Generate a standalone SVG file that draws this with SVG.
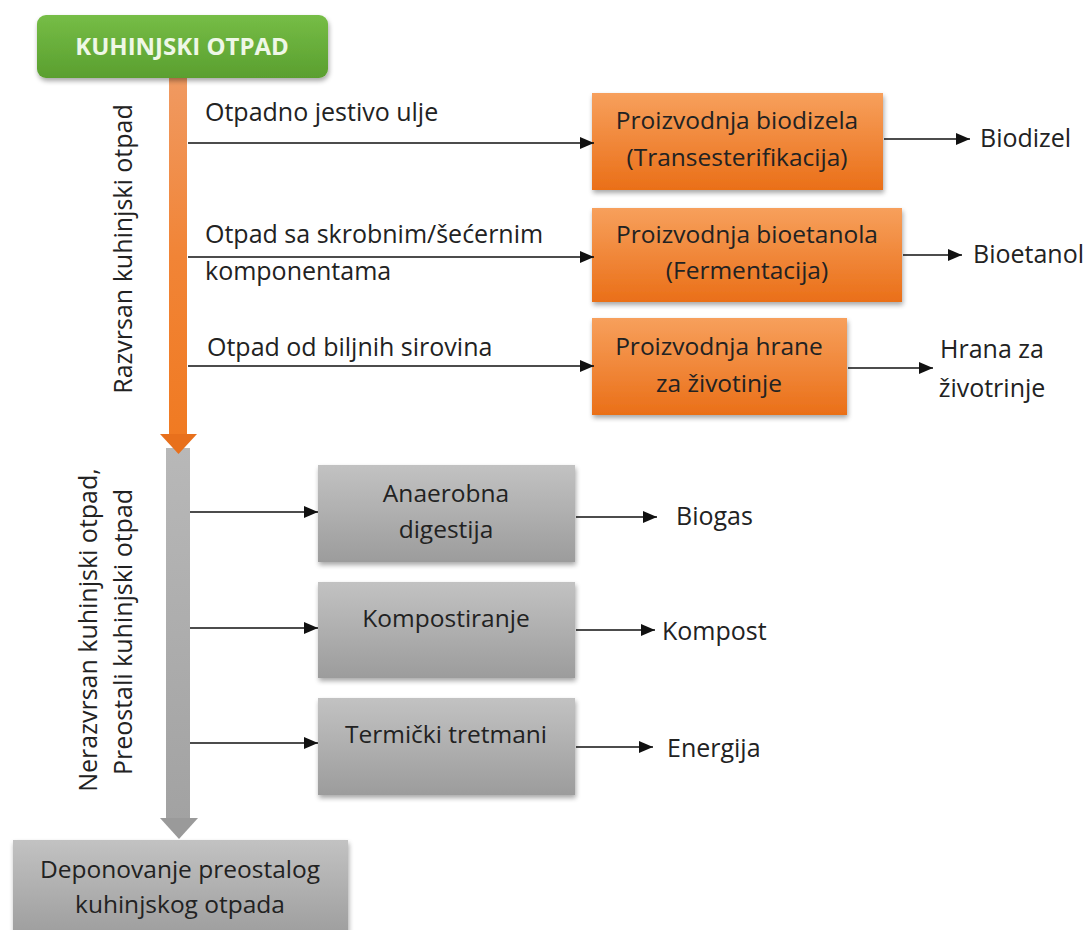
<svg xmlns="http://www.w3.org/2000/svg" width="1086" height="930" viewBox="0 0 1086 930">
  <style>
    text { font-family: "Open Sans", "Noto Sans", "Liberation Sans", sans-serif; font-size: 24.5px; fill: #222222; }
    .c { text-anchor: middle; }
    .lbl { font-size: 25px; }
    .title { font-weight: bold; fill: #eef7e6; font-size: 24px; }
    .conn { stroke: #111; stroke-width: 1.6; fill: none; marker-end: url(#ah); }
  </style>
  <defs>
    <marker id="ah" markerUnits="userSpaceOnUse" markerWidth="14" markerHeight="12" refX="14" refY="6" orient="auto">
      <path d="M0,0 L14,6 L0,12 z" fill="#111"/>
    </marker>
    <linearGradient id="gGreen" x1="0" y1="0" x2="0" y2="1">
      <stop offset="0" stop-color="#76bd46"/>
      <stop offset="1" stop-color="#5a9f2f"/>
    </linearGradient>
    <linearGradient id="gOrange" x1="0" y1="0" x2="0" y2="1">
      <stop offset="0" stop-color="#f7a05c"/>
      <stop offset="1" stop-color="#ea6f18"/>
    </linearGradient>
    <linearGradient id="gGray" x1="0" y1="0" x2="0" y2="1">
      <stop offset="0" stop-color="#c2c2c2"/>
      <stop offset="1" stop-color="#9c9c9c"/>
    </linearGradient>
    <linearGradient id="gBarO" x1="0" y1="0" x2="0" y2="1">
      <stop offset="0" stop-color="#f09a62"/>
      <stop offset="0.5" stop-color="#f18436"/>
      <stop offset="1" stop-color="#f07a22"/>
    </linearGradient>
    <linearGradient id="gBarG" x1="0" y1="0" x2="0" y2="1">
      <stop offset="0" stop-color="#b8b8b8"/>
      <stop offset="1" stop-color="#a2a2a2"/>
    </linearGradient>
    <filter id="sh" x="-10%" y="-10%" width="120%" height="130%">
      <feGaussianBlur in="SourceAlpha" stdDeviation="2.5"/>
      <feOffset dx="1" dy="3" result="b"/>
      <feComponentTransfer><feFuncA type="linear" slope="0.35"/></feComponentTransfer>
      <feMerge><feMergeNode/><feMergeNode in="SourceGraphic"/></feMerge>
    </filter>
  </defs>

  <rect width="1086" height="930" fill="#ffffff"/>

  <!-- vertical flow bars -->
  <g id="flow-bars">
    <rect x="169" y="76" width="18" height="362" fill="url(#gBarO)"/>
    <rect x="166" y="448" width="24" height="372" fill="url(#gBarG)"/>
    <path d="M160,818 L198,818 L179,839 z" fill="#9a9a9a"/>
    <path d="M160,434 L197,434 L178.5,454 z" fill="#e8701c"/>
  </g>

  <!-- vertical labels -->
  <g id="side-labels">
    <text class="c lbl" transform="translate(132,249) rotate(-90)">Razvrsan kuhinjski otpad</text>
    <text class="c lbl" transform="translate(97,630) rotate(-90)">Nerazvrsan kuhinjski otpad,</text>
    <text class="c lbl" transform="translate(132,632) rotate(-90)">Preostali kuhinjski otpad</text>
  </g>

  <g id="node-kuhinjski-otpad">
    <rect x="37" y="15" width="291" height="63" rx="9" fill="url(#gGreen)" filter="url(#sh)"/>
    <text class="c title" x="182" y="55">KUHINJSKI OTPAD</text>
  </g>

  <g id="node-biodizel-proc">
    <rect x="592" y="93" width="291" height="97" fill="url(#gOrange)" filter="url(#sh)"/>
    <text class="c" x="737" y="129">Proizvodnja biodizela</text>
    <text class="c" x="737" y="166">(Transesterifikacija)</text>
  </g>
  <g id="node-bioetanol-proc">
    <rect x="592" y="208" width="310" height="94" fill="url(#gOrange)" filter="url(#sh)"/>
    <text class="c" x="747" y="243">Proizvodnja bioetanola</text>
    <text class="c" x="747" y="279">(Fermentacija)</text>
  </g>
  <g id="node-hrana-proc">
    <rect x="592" y="318" width="255" height="97" fill="url(#gOrange)" filter="url(#sh)"/>
    <text class="c" x="719" y="355">Proizvodnja hrane</text>
    <text class="c" x="719" y="392">za životinje</text>
  </g>

  <g id="node-anaerobna">
    <rect x="318" y="465" width="257" height="97" fill="url(#gGray)" filter="url(#sh)"/>
    <text class="c" x="446" y="502">Anaerobna</text>
    <text class="c" x="446" y="538">digestija</text>
  </g>
  <g id="node-kompostiranje">
    <rect x="318" y="582" width="257" height="96" fill="url(#gGray)" filter="url(#sh)"/>
    <text class="c" x="446" y="627">Kompostiranje</text>
  </g>
  <g id="node-termicki">
    <rect x="318" y="698" width="257" height="97" fill="url(#gGray)" filter="url(#sh)"/>
    <text class="c" x="446" y="743">Termički tretmani</text>
  </g>

  <g id="node-deponovanje">
    <rect x="13" y="840" width="335" height="100" fill="url(#gGray)" filter="url(#sh)"/>
    <text class="c" x="180" y="878">Deponovanje preostalog</text>
    <text class="c" x="180" y="913">kuhinjskog otpada</text>
  </g>

  <!-- output labels -->
  <g id="node-biodizel"><text class="lbl" x="980" y="147">Biodizel</text></g>
  <g id="node-bioetanol"><text class="lbl" x="973" y="263">Bioetanol</text></g>
  <g id="node-hrana">
    <text class="c lbl" x="992" y="358">Hrana za</text>
    <text class="c lbl" x="992" y="397">životrinje</text>
  </g>
  <g id="node-biogas"><text class="lbl" x="676" y="525">Biogas</text></g>
  <g id="node-kompost"><text class="lbl" x="662" y="640">Kompost</text></g>
  <g id="node-energija"><text class="lbl" x="667" y="757">Energija</text></g>

  <!-- connector labels -->
  <g id="connector-labels">
    <text class="lbl" x="205" y="121">Otpadno jestivo ulje</text>
    <text class="lbl" x="205" y="243">Otpad sa skrobnim/šećernim</text>
    <text class="lbl" x="205" y="280">komponentama</text>
    <text class="lbl" x="207" y="356">Otpad od biljnih sirovina</text>
  </g>

  <g id="connectors">
    <line class="conn" x1="188" y1="143" x2="594" y2="143"/>
    <line class="conn" x1="188" y1="257" x2="594" y2="257"/>
    <line class="conn" x1="188" y1="366" x2="594" y2="366"/>
    <line class="conn" x1="884" y1="139" x2="970" y2="139"/>
    <line class="conn" x1="903" y1="255" x2="962" y2="255"/>
    <line class="conn" x1="848" y1="368" x2="933" y2="368"/>
    <line class="conn" x1="190" y1="512" x2="318" y2="512"/>
    <line class="conn" x1="190" y1="628" x2="318" y2="628"/>
    <line class="conn" x1="190" y1="743" x2="318" y2="743"/>
    <line class="conn" x1="576" y1="517" x2="657" y2="517"/>
    <line class="conn" x1="576" y1="630" x2="655" y2="630"/>
    <line class="conn" x1="576" y1="747" x2="653" y2="747"/>
  </g>
</svg>
